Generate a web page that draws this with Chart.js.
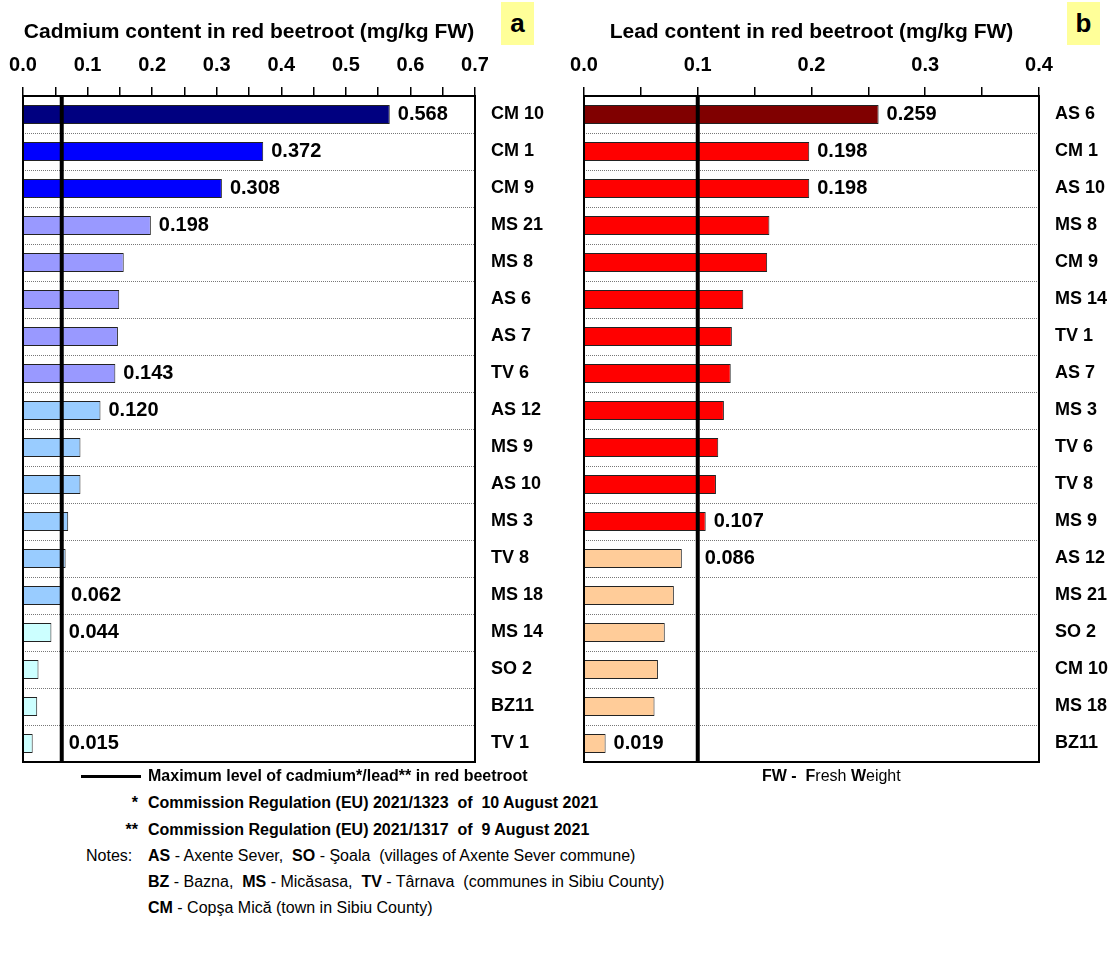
<!DOCTYPE html>
<html>
<head>
<meta charset="utf-8">
<script src="https://cdn.jsdelivr.net/npm/chart.js@4.4.1/dist/chart.umd.min.js"></script>
<style>
  body { margin: 0; background: #fff; width: 1112px; height: 963px; position: relative; overflow: hidden;
         font-family: 'Liberation Sans', Arial, sans-serif; color: #000; }
  canvas { position: absolute; top: 0; }
  .title { position: absolute; top: 19px; font-size: 21px; font-weight: bold; line-height: 24px; text-align: center; white-space: nowrap; }
  .tag { position: absolute; top: 2px; width: 33px; height: 43px; background: #ffff99; font-size: 26px; font-weight: bold;
         line-height: 43px; text-align: center; }
  .row { position: absolute; font-size: 16px; line-height: 20px; white-space: pre; }
  .b { font-weight: bold; }
  .mark { position: absolute; font-size: 16px; line-height: 20px; font-weight: bold; text-align: right; white-space: pre; }
</style>
</head>
<body>
<canvas id="cdChart" width="556" height="780" style="left:0"></canvas>
<canvas id="pbChart" width="556" height="780" style="left:556px"></canvas>

<div class="title" style="left:23px; width:452px">Cadmium content in red beetroot (mg/kg FW)</div>
<div class="tag" style="left:501px">a</div>
<div class="title" style="left:584px; width:455px">Lead content in red beetroot (mg/kg FW)</div>
<div class="tag" style="left:1067px">b</div>

<div style="position:absolute; left:81px; top:775px; width:60px; height:3px; background:#000"></div>
<div class="row b" style="left:148px; top:766px">Maximum level of cadmium*/lead** in red beetroot</div>
<div class="row" style="left:762px; top:766px"><span class="b">FW -  F</span>resh <span class="b">W</span>eight</div>

<div class="mark" style="left:95px; width:43px; top:793px">*</div>
<div class="row b" style="left:148px; top:793px">Commission Regulation (EU) 2021/1323  of  10 August 2021</div>
<div class="mark" style="left:95px; width:43px; top:820px">**</div>
<div class="row b" style="left:148px; top:820px">Commission Regulation (EU) 2021/1317  of  9 August 2021</div>

<div class="row" style="left:86px; top:846px">Notes:</div>
<div class="row" style="left:148px; top:846px"><span class="b">AS</span> - Axente Sever,  <span class="b">SO</span> - Şoala  (villages of Axente Sever commune)</div>
<div class="row" style="left:148px; top:872px"><span class="b">BZ</span> - Bazna,  <span class="b">MS</span> - Micăsasa,  <span class="b">TV</span> - Târnava  (communes in Sibiu County)</div>
<div class="row" style="left:148px; top:898px"><span class="b">CM</span> - Copşa Mică (town in Sibiu County)</div>

<script>
// Cadmium (panel a)
const cdCategories = ['CM 10', 'CM 1', 'CM 9', 'MS 21', 'MS 8', 'AS 6', 'AS 7', 'TV 6', 'AS 12',
                      'MS 9', 'AS 10', 'MS 3', 'TV 8', 'MS 18', 'MS 14', 'SO 2', 'BZ11', 'TV 1'];
const cdValues = [0.568, 0.372, 0.308, 0.198, 0.156, 0.149, 0.147, 0.143, 0.120,
                  0.089, 0.089, 0.070, 0.066, 0.062, 0.044, 0.024, 0.022, 0.015];
const cdLabelled = ['CM 10', 'CM 1', 'CM 9', 'MS 21', 'TV 6', 'AS 12', 'MS 18', 'MS 14', 'TV 1'];
const cdTickLabels = ['0.0', '0.1', '0.2', '0.3', '0.4', '0.5', '0.6', '0.7'];
const cdLimit = 0.06;

// Lead (panel b)
const pbCategories = ['AS 6', 'CM 1', 'AS 10', 'MS 8', 'CM 9', 'MS 14', 'TV 1', 'AS 7', 'MS 3',
                      'TV 6', 'TV 8', 'MS 9', 'AS 12', 'MS 21', 'SO 2', 'CM 10', 'MS 18', 'BZ11'];
const pbValues = [0.259, 0.198, 0.198, 0.163, 0.161, 0.140, 0.130, 0.129, 0.123,
                  0.118, 0.116, 0.107, 0.086, 0.079, 0.071, 0.065, 0.062, 0.019];
const pbLabelled = ['AS 6', 'CM 1', 'AS 10', 'MS 9', 'AS 12', 'BZ11'];
const pbTickLabels = ['0.0', '0.1', '0.2', '0.3', '0.4'];
const pbLimit = 0.1;

// Bar fills, one per category
const cdColors = ['#000080', '#0000ff', '#0000ff', '#9999ff', '#9999ff', '#9999ff', '#9999ff', '#9999ff',
                  '#99ccff', '#99ccff', '#99ccff', '#99ccff', '#99ccff', '#99ccff',
                  '#ccffff', '#ccffff', '#ccffff', '#ccffff'];
const pbColors = ['#800000', '#ff0000', '#ff0000', '#ff0000', '#ff0000', '#ff0000', '#ff0000', '#ff0000',
                  '#ff0000', '#ff0000', '#ff0000', '#ff0000',
                  '#ffcc99', '#ffcc99', '#ffcc99', '#ffcc99', '#ffcc99', '#ffcc99'];

const FONT = "'Liberation Sans', Arial, sans-serif";

// Draws the limit line, the plot frame and the value labels
const limitAndLabels = {
  id: 'limitAndLabels',
  afterDatasetsDraw(chart, args, opts) {
    const { ctx, chartArea: a, scales: { x } } = chart;
    const limitX = x.getPixelForValue(opts.limit);
    const ds = chart.data.datasets[0];
    const meta = chart.getDatasetMeta(0);
    ctx.save();
    ctx.font = 'bold 20px ' + FONT;
    ctx.fillStyle = '#000';
    ctx.textBaseline = 'middle';
    ctx.textAlign = 'left';
    chart.data.labels.forEach((lab, i) => {
      if (!opts.labelled.includes(lab)) return;
      const v = ds.data[i];
      const txt = v.toFixed(3);
      const w = ctx.measureText(txt).width;
      let tx = x.getPixelForValue(v) + 8;
      // a label that would cross the limit line moves to its right side
      if (tx < limitX + 4 && tx + w > limitX - 4) tx = limitX + 7;
      ctx.fillText(txt, tx, meta.data[i].y);
    });
    ctx.strokeStyle = '#000';
    ctx.lineWidth = 4;
    ctx.beginPath();
    ctx.moveTo(limitX, a.top);
    ctx.lineTo(limitX, a.bottom);
    ctx.stroke();
    ctx.lineWidth = 2;
    ctx.strokeRect(a.left, a.top, a.right - a.left, a.bottom - a.top);
    ctx.restore();
  }
};

function makeChart(id, labels, values, colors, tickLabels, max, limit, labelled, padLeft, axisWidth) {
  return new Chart(document.getElementById(id), {
    type: 'bar',
    data: {
      labels: labels,
      datasets: [{
        data: values,
        backgroundColor: colors,
        borderColor: '#222',
        borderWidth: 1,
        categoryPercentage: 1,
        barPercentage: 0.52
      }]
    },
    options: {
      indexAxis: 'y',
      responsive: false,
      animation: false,
      devicePixelRatio: 1,
      layout: { padding: { left: padLeft, right: 0, top: 0, bottom: 18 } },
      plugins: {
        legend: { display: false },
        tooltip: { enabled: false },
        limitAndLabels: { limit: limit, labelled: labelled }
      },
      scales: {
        x: {
          position: 'top',
          min: 0,
          max: max,
          ticks: {
            stepSize: 0.05,
            autoSkip: false,
            maxRotation: 0,
            color: '#000',
            padding: 10,
            font: { family: FONT, size: 20, weight: 'bold' },
            callback(v) {
              const r = Math.round(v * 100);
              return r % 10 === 0 ? tickLabels[r / 10] : '';
            }
          },
          grid: { drawOnChartArea: false, drawTicks: true, tickLength: 9, color: '#000', lineWidth: 1.5 },
          border: { display: true, color: '#000', width: 2 },
          afterFit(s) { s.height = 96; s.paddingLeft = 0; s.paddingRight = 0; }
        },
        y: {
          position: 'right',
          ticks: { color: '#000', padding: 16, font: { family: FONT, size: 18, weight: 'bold' } },
          grid: { offset: true, drawTicks: false, color: '#777', lineWidth: 1 },
          border: { display: true, color: '#000', width: 2, dash: [1, 1] },
          afterFit(s) { s.width = axisWidth; s.paddingTop = 0; s.paddingBottom = 0; }
        }
      }
    },
    plugins: [limitAndLabels]
  });
}

makeChart('cdChart', cdCategories, cdValues, cdColors, cdTickLabels, 0.7, cdLimit, cdLabelled, 23, 81);
makeChart('pbChart', pbCategories, pbValues, pbColors, pbTickLabels, 0.4, pbLimit, pbLabelled, 28, 73);
</script>
</body>
</html>
